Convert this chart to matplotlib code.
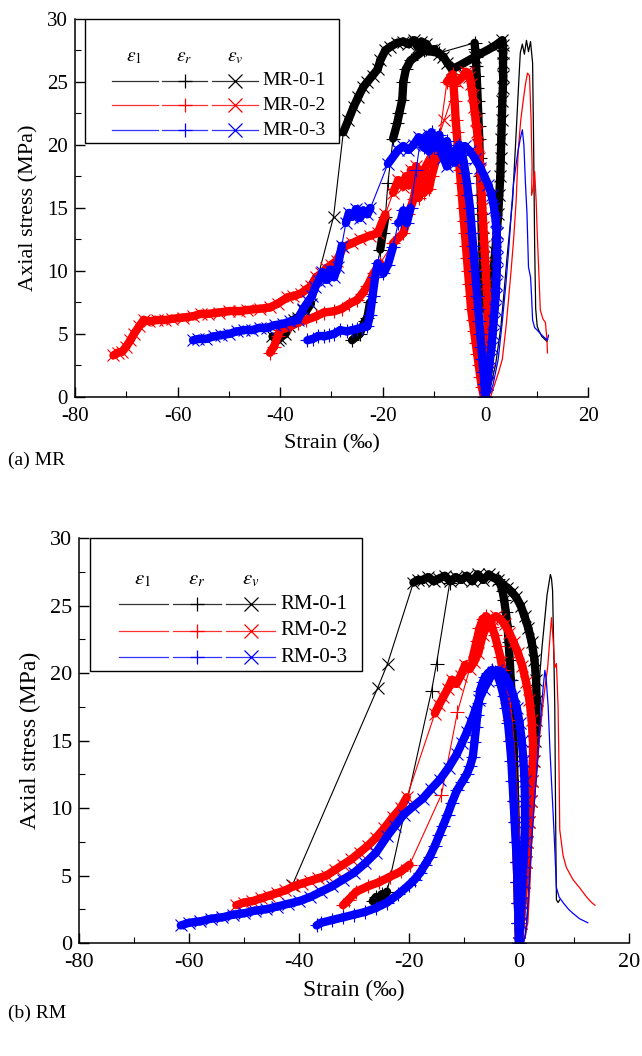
import matplotlib
matplotlib.use("Agg")
import matplotlib.pyplot as plt
import numpy as np
from matplotlib.patches import Rectangle
from matplotlib.collections import LineCollection
from matplotlib.ticker import MultipleLocator

plt.rcParams["font.family"] = ["Liberation Serif", "DejaVu Serif"]
plt.rcParams["mathtext.fontset"] = "stix"
plt.rcParams["axes.unicode_minus"] = False

# ---------------- (a) MR specimens ----------------
# MR-0-1 (black)
mr1_e1_strain = [0.3, 1.0, 2.0, 3.0, 3.5, 4.2, 5.3, 6.0, 6.5, 6.8, 7.2, 7.6, 8.0, 8.4, 8.8, 9.2, 9.4, 9.6, 9.8, 10.1, 10.5, 11.0, 11.5, 12.0]
mr1_e1_stress = [0, 0.8, 2.6, 5.5, 7.7, 11.0, 15.6, 21.0, 25.0, 27.3, 28.0, 27.2, 28.3, 27.4, 28.2, 26.5, 20.0, 12.0, 7.0, 5.6, 5.2, 4.8, 4.6, 4.4]
mr1_er_strain = [0, -0.05, -0.1, -0.2, -0.3, -0.4, -0.5, -0.6, -0.7, -0.8, -0.9, -1.0, -1.1, -1.2, -1.3, -1.4, -1.5, -1.6, -1.7, -1.8, -1.9, -2.0, -2.1,
                 -9.0, -12.0, -14.6, -15.5, -16.0, -16.2, -16.8, -17.2, -18.0, -19.0, -19.5, -20.0, -20.5, -21.5, -22.5, -23.0, -23.5, -24.5, -26.0]
mr1_er_stress = [0, 1.5, 3, 5, 7, 8.5, 10, 11.5, 13, 14.5, 16, 17.5, 19, 20.5, 21.5, 22.5, 23.5, 24.5, 25.5, 26.3, 27.0, 27.6, 28.1,
                 27.3, 27.5, 26.7, 26.0, 25.0, 23.6, 22.5, 21.7, 20.5, 17.0, 14.3, 13.0, 11.7, 9.5, 7.5, 6.3, 6.0, 5.0, 4.5]
mr1_ev_strain = [0, 0.1, 0.3, 0.5, 0.8, 1.0, 1.3, 1.6, 1.9, 2.2, 2.5, 2.7, 2.9, 3.0, 3.1, 3.2, 3.3, 3.4, 3.5, 3.5, 3.5, 3.4, 3.3,
                 1.6, -2.0, -5.5, -6.5, -7.4, -8.2, -9.0, -10.0, -10.7, -11.5, -12.5, -13.2, -14.0, -15.0, -16.0, -17.2, -18.5, -19.5, -20.5,
                 -21.0, -22.0, -23.0, -23.8, -24.8, -25.7, -26.7, -27.7, -29.6, -34.0, -35.0, -35.5, -36.5, -37.4, -38.2, -39.0, -40.0, -40.5, -41.5]
mr1_ev_stress = [0, 1, 2.5, 4, 5.5, 7, 8.5, 10, 11.5, 13, 14.5, 16, 17.5, 19, 20.5, 22, 23.5, 24.5, 25.5, 26.5, 27.3, 27.9, 28.3,
                 27.8, 27.0, 26.2, 26.0, 26.5, 27.0, 27.2, 27.6, 27.5, 28.0, 28.2, 27.8, 28.3, 28.0, 28.2, 28.1, 27.8, 27.5, 26.7,
                 26.0, 25.5, 25.0, 24.6, 23.8, 23.0, 22.0, 21.0, 14.3, 7.4, 6.8, 6.9, 6.3, 6.1, 5.6, 5.0, 4.7, 4.5, 4.8]

# MR-0-2 (red)
mr2_e1_strain = [1.0, 1.8, 2.6, 3.3, 4.0, 4.5, 5.0, 5.5, 6.0, 6.4, 6.9, 7.4, 7.8, 8.2, 8.6, 8.9, 9.1, 9.0, 9.3, 9.6, 9.9, 10.1, 10.4, 10.7, 11.2, 11.7, 12.0, 12.1]
mr2_e1_stress = [0, 1, 2, 3, 5.5, 7.7, 10, 12.5, 15.6, 19.6, 22, 23.6, 24.8, 25.7, 25.5, 22, 18.3, 16, 16.5, 17.9, 15.5, 13, 10, 6.9, 6.2, 5.9, 4.5, 3.5]
mr2_er_strain = [-0.3, -0.7, -1.0, -1.3, -1.6, -1.9, -2.2, -2.5, -2.8, -3.0, -3.2, -3.4, -3.6, -3.8, -4.0, -4.2, -4.4, -4.6, -4.8, -5.0, -5.2, -5.4, -5.6, -5.8, -6.0, -6.2, -6.4,
                 -7.5, -9.5, -10.5, -11.0, -11.5, -12.0, -12.5, -13.0, -13.5, -14.0, -15.0, -16.0, -18.0, -20.5, -21.8, -23.0, -24.0, -25.0, -26.5,
                 -28.0, -29.5, -31.5, -33.0, -35.0, -36.6, -38.0, -40.0, -40.5, -41.2, -42.0]
mr2_er_stress = [0, 0.8, 1.6, 2.5, 3.4, 4.3, 5.2, 6.1, 7.0, 8.0, 9.0, 10.0, 11.0, 12.0, 13.0, 14.0, 15.0, 16.0, 17.0, 18.0, 19.0, 20.0, 21.0, 22.0, 23.5, 24.7, 25.6,
                 25.0, 19.0, 17.5, 16.5, 17.8, 16.2, 17.0, 15.8, 16.8, 15.7, 14.5, 13.0, 12.2, 10.6, 9.8, 8.8, 8.2, 7.7, 7.4,
                 7.0, 6.8, 6.7, 6.4, 6.1, 5.9, 5.6, 5.3, 4.8, 4.0, 3.5]
mr2_ev_strain = [0, 0.3, 0.5, 0.6, 0.6, 0.5, 0.4, 0.2, 0, -0.2, -0.4, -0.6, -0.8, -1.0, -1.2, -1.4, -1.6, -1.9, -2.2, -2.5, -2.8, -3.1, -3.4, -3.8, -4.2,
                 -5.5, -8.0, -10.0, -12.0, -13.0, -13.5, -14.0, -14.5, -15.0, -15.5, -16.0, -17.0, -18.0, -19.5, -21.0, -22.5, -24.4, -26.0, -27.7,
                 -29.0, -30.0, -31.0, -32.0, -33.0, -34.0, -35.0, -36.0, -37.5, -38.6, -40.5, -42.0, -44.0, -46.4, -48.0, -50.0, -52.0, -54.0,
                 -55.5, -57.0, -59.0, -61.0, -62.5, -64.0, -65.5, -66.6, -67.5, -68.5, -69.2, -70.0, -70.8, -71.7, -72.5]
mr2_ev_stress = [0, 1, 2, 3, 4.5, 6, 7.5, 9, 10.5, 12, 13.5, 15, 16.5, 18, 19, 20, 21, 22, 23, 24, 24.8, 25.4, 25.7, 25.8, 25.5,
                 25.0, 22.0, 19.5, 18.0, 17.5, 18.3, 17.0, 18.0, 16.8, 17.5, 16.7, 17.2, 16.2, 14.5, 13.0, 12.8, 12.5, 12.2, 11.9,
                 10.8, 10.5, 10.2, 9.8, 9.5, 8.8, 8.5, 8.2, 8.0, 7.9, 7.4, 7.1, 7.0, 6.9, 6.8, 6.8, 6.7, 6.6,
                 6.6, 6.4, 6.3, 6.2, 6.1, 6.1, 6.0, 6.1, 5.6, 5.0, 4.5, 4.0, 3.6, 3.5, 3.3]

# MR-0-3 (blue)
mr3_e1_strain = [0.6, 1.5, 2.5, 3.3, 4.0, 4.6, 5.1, 5.5, 6.0, 6.4, 6.8, 7.2, 7.5, 7.8, 8.1, 8.4, 8.8, 9.0, 9.2, 9.6, 10.1, 11.0, 12.1, 12.3]
mr3_e1_stress = [0, 1, 3, 6, 9, 12, 15, 17, 18.5, 19.6, 20.5, 21.2, 20.0, 17.0, 14.6, 10.3, 9.5, 8.0, 6.1, 5.5, 5.3, 4.9, 4.5, 4.9]
mr3_er_strain = [0, -0.2, -0.4, -0.6, -0.8, -1.0, -1.2, -1.4, -1.6, -1.8, -2.0, -2.2, -2.4, -2.6, -2.8, -3.0, -3.3, -3.6, -3.9, -4.2, -4.5, -4.8, -5.1,
                 -6.8, -7.5, -8.5, -9.0, -10.0, -10.5, -11.0, -11.5, -12.0, -12.7, -13.5, -14.6, -15.3, -16.0, -16.5, -17.0, -18.0, -19.0, -19.9,
                 -21.0, -21.5, -22.0, -22.5, -23.0, -24.0, -25.0, -26.0, -27.0, -28.3, -29.5, -30.5, -31.5, -32.7, -33.7, -34.7]
mr3_er_stress = [0, 1, 2, 3, 4, 5, 6, 7, 8, 9, 10, 11, 12, 13, 14, 15, 16, 17, 17.8, 18.6, 19.2, 19.7, 20.0,
                 19.0, 20.3, 19.3, 20.8, 19.8, 21.0, 19.5, 20.6, 19.8, 20.3, 18.0, 15.0, 13.8, 14.8, 14.0, 13.8, 11.9, 10.5, 9.8,
                 10.6, 9.5, 8.0, 6.5, 5.6, 5.5, 5.4, 5.3, 5.2, 5.3, 5.0, 4.9, 4.8, 4.8, 4.6, 4.5]
mr3_ev_strain = [0, 0.3, 0.6, 0.9, 1.2, 1.4, 1.6, 1.8, 2.0, 2.1, 2.2, 2.3, 2.3, 2.2, 2.0, 1.7, 1.2, 0.6, -0.2, -1.0, -2.0, -3.0, -4.0,
                 -5.0, -6.0, -6.8, -7.5, -8.2, -9.0, -10.0, -11.0, -12.0, -13.0, -14.0, -15.0, -16.0, -17.0, -19.0, -22.4, -23.0, -23.8,
                 -24.5, -25.2, -26.0, -26.6, -27.2, -28.0, -28.8, -29.5, -30.2, -31.0, -31.8, -32.5, -33.2, -33.8, -34.5, -35.5, -36.6,
                 -38.0, -39.5, -41.0, -42.5, -44.0, -45.5, -47.0, -48.5, -50.0, -51.5, -53.0, -54.5, -56.0, -57.0]
mr3_ev_stress = [0, 1, 2, 3, 4, 5, 6, 7, 8, 9, 10, 11, 12, 13, 14, 15, 16, 16.8, 17.5, 18.2, 18.9, 19.5, 19.9,
                 19.5, 18.6, 19.2, 18.3, 19.0, 20.0, 20.4, 20.8, 20.3, 20.6, 20.0, 19.6, 19.9, 19.6, 18.5, 15.0, 14.5, 14.8,
                 14.2, 14.9, 14.3, 14.6, 13.8, 12.0, 10.3, 9.5, 10.1, 9.3, 9.9, 9.2, 8.7, 8.0, 7.6, 7.0, 6.1,
                 6.0, 5.8, 5.7, 5.5, 5.5, 5.3, 5.3, 5.2, 5.0, 4.9, 4.8, 4.6, 4.6, 4.5]

# ---------------- (b) RM specimens ----------------
# RM-0-1 (black)
rm1_e1_strain = [0.6, 1.2, 1.6, 1.9, 2.3, 2.7, 3.2, 3.5, 3.8, 4.2, 4.7, 5.1, 5.5, 5.7, 5.9, 6.1, 6.3, 6.5, 6.6, 6.7, 6.8, 7.1, 7.4]
rm1_e1_stress = [0, 0.6, 2.7, 5.0, 7.6, 11.5, 16.0, 18.0, 20.0, 22.0, 24.1, 25.8, 26.8, 27.3, 27.0, 26.1, 22.0, 17.5, 12.0, 7.0, 3.2, 3.0, 3.2]
rm1_er_strain = [0, -0.1, -0.2, -0.3, -0.4, -0.5, -0.6, -0.7, -0.8, -0.9, -1.0, -1.1, -1.3, -1.5, -1.7, -1.9, -2.1, -2.4, -2.7, -3.0, -3.4, -3.8,
                 -8.0, -12.6, -15.0, -15.9, -24.0, -24.5, -25.0, -25.5, -26.0, -26.6]
rm1_er_stress = [0, 1.5, 3, 4.5, 6, 7.5, 9, 10.5, 12, 13.5, 15, 16.5, 18, 19.5, 21, 22.3, 23.5, 24.5, 25.4, 26.1, 26.6, 27.0,
                 27.1, 26.7, 20.7, 18.7, 3.8, 3.4, 3.6, 3.2, 3.4, 3.1]
rm1_ev_strain = [0, 0.3, 0.6, 0.9, 1.2, 1.5, 1.8, 2.1, 2.4, 2.7, 2.9, 3.1, 3.2, 3.1, 2.8, 2.3, 1.7, 1.0, 0.3, -0.5, -1.3, -2.1, -3.0, -3.9, -4.8,
                 -5.5, -6.5, -7.5, -8.5, -9.5, -10.5, -11.5, -12.5, -13.5, -14.5, -15.5, -16.5, -17.5, -18.4, -19.2, -23.9, -25.7, -41.2]
rm1_ev_stress = [0, 1.5, 3, 4.5, 6, 7.5, 9, 10.5, 12, 13.5, 15, 16.5, 18, 19.5, 21, 22.3, 23.3, 24.2, 25.0, 25.6, 26.0, 26.3, 26.6, 26.9, 27.1,
                 27.3, 26.9, 27.3, 26.8, 27.2, 26.9, 27.1, 26.8, 27.2, 27.0, 26.8, 27.1, 26.9, 26.9, 26.7, 20.7, 18.9, 4.3]

# RM-0-2 (red)
rm2_e1_strain = [0.8, 1.2, 1.6, 2.0, 2.3, 2.8, 3.2, 3.8, 4.3, 4.8, 5.2, 5.6, 5.9, 6.2, 6.5, 6.8, 7.1, 7.3, 7.4, 8.0, 8.6, 9.8, 11.0, 12.3, 13.2, 13.8]
rm2_e1_stress = [0, 0.8, 1.5, 4.5, 7.6, 10.5, 12.6, 15.5, 17.5, 19.2, 20.4, 22.5, 24.1, 22.5, 20.4, 20.7, 17.5, 12.0, 8.4, 6.5, 5.6, 4.7, 4.1, 3.4, 3.0, 2.8]
rm2_er_strain = [0, -0.1, -0.2, -0.3, -0.4, -0.5, -0.7, -0.9, -1.1, -1.3, -1.6, -1.9, -2.2, -2.6, -3.0, -3.4, -3.9, -4.4, -4.9, -5.4, -6.0, -6.6, -7.2, -7.7,
                 -8.5, -11.2, -14.1, -19.9, -21.5, -23.5, -25.5, -27.5, -29.6, -31.0, -32.0]
rm2_er_stress = [0, 1.5, 3, 4.5, 6, 7.5, 9, 10.5, 12, 13.5, 15, 16.5, 17.8, 19, 20.2, 21.2, 22, 22.8, 23.4, 23.9, 24.2, 24.0, 23.3, 22.4,
                 21.0, 17.1, 11.0, 5.8, 5.3, 4.9, 4.5, 4.2, 3.8, 3.2, 2.8]
rm2_ev_strain = [0, 0.3, 0.6, 0.9, 1.2, 1.5, 1.8, 2.1, 2.3, 2.5, 2.5, 2.3, 1.9, 1.3, 0.6, -0.2, -1.0, -1.8, -2.6, -3.4, -4.2, -5.0, -5.8, -6.6,
                 -7.4, -8.2, -9.0, -9.8, -10.6, -11.4, -12.2, -13.0, -13.8, -14.6, -15.3, -20.4, -21.5, -23.0, -24.5, -26.0,
                 -27.5, -29.0, -30.5, -32.0, -33.5, -35.0, -36.5, -38.0, -39.5, -41.0, -42.5, -44.0, -45.5, -47.0, -48.5, -50.0, -51.4]
rm2_ev_stress = [0, 1.5, 3, 4.5, 6, 7.5, 9, 10.5, 12, 13.5, 15, 16.5, 18, 19.3, 20.5, 21.5, 22.3, 23.0, 23.6, 24.0, 24.2, 24.0, 23.5, 22.8,
                 21.5, 20.8, 20.3, 20.6, 19.8, 19.2, 19.5, 18.8, 18.2, 17.6, 17.0, 10.8, 10.0, 9.3, 8.5, 7.8,
                 7.2, 6.7, 6.2, 5.8, 5.4, 5.0, 4.8, 4.6, 4.4, 4.2, 3.9, 3.7, 3.5, 3.3, 3.1, 3.0, 2.8]

# RM-0-3 (blue)
rm3_e1_strain = [0.8, 1.1, 1.4, 1.8, 2.3, 2.8, 3.2, 3.6, 4.1, 4.4, 4.7, 4.95, 5.3, 5.6, 5.9, 6.2, 6.5, 6.8, 7.3, 8.0, 9.0, 9.8, 11.0, 12.5]
rm3_e1_stress = [0, 0.5, 1.5, 4.0, 7.6, 10.5, 12.6, 15.0, 17.5, 19.0, 20.2, 19.5, 17.5, 14.5, 12.0, 9.6, 7.0, 4.1, 3.4, 3.0, 2.5, 2.2, 1.8, 1.5]
rm3_er_strain = [0, -0.1, -0.2, -0.3, -0.4, -0.6, -0.8, -1.0, -1.2, -1.4, -1.7, -2.0, -2.4, -2.8, -3.3, -3.8, -4.4, -5.0, -5.6, -6.2, -6.6,
                 -7.1, -7.3, -7.6, -7.8, -8.1, -8.4, -8.9, -9.5, -10.4, -11.3, -12.2, -13.0, -13.8, -14.5, -15.3, -16.2, -17.1, -18.0, -19.0,
                 -20.0, -22.0, -24.0, -26.0, -28.0, -30.0, -32.0, -34.0, -36.0, -36.8]
rm3_er_stress = [0, 1.5, 3, 4.5, 6, 7.5, 9, 10.5, 12, 13.5, 15, 16.3, 17.4, 18.3, 19.1, 19.7, 20.1, 20.2, 20.0, 19.7, 19.3,
                 18.7, 17.8, 16.9, 16.0, 14.9, 13.8, 13.1, 12.5, 11.9, 11.3, 10.4, 9.5, 8.7, 8.0, 7.2, 6.4, 5.8, 5.2, 4.7,
                 4.3, 3.6, 3.0, 2.6, 2.3, 2.1, 1.9, 1.7, 1.5, 1.3]
rm3_ev_strain = [0, 0.2, 0.4, 0.6, 0.8, 1.0, 1.1, 1.1, 1.0, 0.8, 0.5, 0.1, -0.4, -1.0, -1.7, -2.4, -3.2, -4.0, -4.8, -5.6, -6.4,
                 -7.3, -8.0, -8.7, -9.5, -10.4, -11.3, -12.8, -14.4, -16.0, -17.5, -19.3, -21.0, -22.5, -24.0, -26.0, -28.0, -30.0, -32.0, -34.0, -36.0,
                 -38.0, -40.0, -42.0, -44.0, -46.0, -48.0, -50.0, -52.0, -54.0, -56.0, -58.0, -60.0, -61.5]
rm3_ev_stress = [0, 1.5, 3, 4.5, 6, 7.5, 9, 10.5, 12, 13.5, 15, 16.3, 17.4, 18.3, 19.1, 19.7, 20.1, 20.2, 20.0, 19.4, 18.8,
                 18.0, 17.2, 16.4, 15.6, 14.8, 14.0, 13.0, 12.1, 11.4, 10.7, 10.1, 9.5, 8.7, 7.9, 6.7, 5.9, 5.2, 4.7, 4.2, 3.8,
                 3.4, 3.1, 2.9, 2.7, 2.5, 2.4, 2.2, 2.1, 1.9, 1.8, 1.6, 1.5, 1.3]

colors = ["black", "red", "blue"]


def dense_band(ax, x, y, color, maxlen=22, lw=6):
    # the recorded data is so dense that the markers merge into a solid band;
    # mimic that on the short (densely sampled) segments only
    pts = ax.transData.transform(np.column_stack([x, y]))
    segs = []
    for i in range(len(x) - 1):
        if np.hypot(*(pts[i + 1] - pts[i])) < maxlen:
            segs.append([(x[i], y[i]), (x[i + 1], y[i + 1])])
    ax.add_collection(LineCollection(segs, colors=color, linewidths=lw, capstyle="round"))


def draw_specimen(ax, e1, er, ev, color):
    ax.plot(e1[0], e1[1], color=color, lw=0.9)
    dense_band(ax, er[0], er[1], color)
    ax.plot(er[0], er[1], color=color, lw=0.8, marker="+", ms=10, mew=0.8)
    dense_band(ax, ev[0], ev[1], color)
    ax.plot(ev[0], ev[1], color=color, lw=0.8, marker="x", ms=9, mew=0.8)


def draw_legend(ax, names, fs):
    ax.add_patch(Rectangle((0.02, 0.672), 0.495, 0.328, transform=ax.transAxes, fc="white",
                           ec="black", lw=1.0, clip_on=False, zorder=4))
    for hx, h in zip([0.115, 0.213, 0.312], [r"$\varepsilon_1$", r"$\varepsilon_r$", r"$\varepsilon_v$"]):
        ax.text(hx, 0.898, h, transform=ax.transAxes, ha="center", va="center", fontsize=fs, zorder=5)
    segs = [(0.073, 0.161, None), (0.170, 0.258, "+"), (0.268, 0.357, "x")]
    for ry, name, c in zip([0.837, 0.771, 0.705], names, colors):
        for x0, x1, m in segs:
            ax.plot([x0, x1], [ry, ry], color=c, lw=0.9, alpha=0.8, transform=ax.transAxes,
                    clip_on=False, zorder=5)
            if m:
                ax.plot([(x0 + x1) / 2], [ry], color=c, marker=m, ms=10, mew=0.9,
                        transform=ax.transAxes, clip_on=False, zorder=5)
        ax.text(0.366, ry, name, transform=ax.transAxes, ha="left", va="center", fontsize=fs, zorder=5)


def style_axes(ax, fs):
    ax.set_xlim(-80, 20)
    ax.set_ylim(0, 30)
    ax.xaxis.set_major_locator(MultipleLocator(20))
    ax.xaxis.set_minor_locator(MultipleLocator(10))
    ax.yaxis.set_major_locator(MultipleLocator(5))
    ax.yaxis.set_minor_locator(MultipleLocator(2.5))
    ax.tick_params(which="major", direction="in", length=7, width=1.0, labelsize=fs)
    ax.tick_params(axis="x", which="major", pad=7)
    ax.tick_params(axis="y", which="major", pad=5)
    ax.tick_params(which="minor", direction="in", length=4, width=0.8)
    ax.spines[["top", "right"]].set_visible(False)
    ax.spines[["left", "bottom"]].set_linewidth(1.1)
    ax.set_xlabel("Strain (‰)", fontsize=fs + 1, labelpad=6)
    ax.set_ylabel("Axial stress (MPa)", fontsize=fs + 1, labelpad=6)


fig = plt.figure(figsize=(6.42, 10.56), dpi=100)

ax1 = fig.add_axes([0.1168, 0.6241, 0.7991, 0.3580])
style_axes(ax1, 15)
draw_specimen(ax1, (mr1_e1_strain, mr1_e1_stress), (mr1_er_strain, mr1_er_stress), (mr1_ev_strain, mr1_ev_stress), colors[0])
draw_specimen(ax1, (mr2_e1_strain, mr2_e1_stress), (mr2_er_strain, mr2_er_stress), (mr2_ev_strain, mr2_ev_stress), colors[1])
draw_specimen(ax1, (mr3_e1_strain, mr3_e1_stress), (mr3_er_strain, mr3_er_stress), (mr3_ev_strain, mr3_ev_stress), colors[2])
draw_legend(ax1, ["MR-0-1", "MR-0-2", "MR-0-3"], 14)

ax2 = fig.add_axes([0.1231, 0.1070, 0.8567, 0.3835])
style_axes(ax2, 16)
draw_specimen(ax2, (rm1_e1_strain, rm1_e1_stress), (rm1_er_strain, rm1_er_stress), (rm1_ev_strain, rm1_ev_stress), colors[0])
draw_specimen(ax2, (rm2_e1_strain, rm2_e1_stress), (rm2_er_strain, rm2_er_stress), (rm2_ev_strain, rm2_ev_stress), colors[1])
draw_specimen(ax2, (rm3_e1_strain, rm3_e1_stress), (rm3_er_strain, rm3_er_stress), (rm3_ev_strain, rm3_ev_stress), colors[2])
draw_legend(ax2, ["RM-0-1", "RM-0-2", "RM-0-3"], 15)

fig.text(0.0125, 0.5644, "(a) MR", fontsize=14, va="center")
fig.text(0.0125, 0.0400, "(b) RM", fontsize=14, va="center")

fig.savefig("out.png", dpi=100)
